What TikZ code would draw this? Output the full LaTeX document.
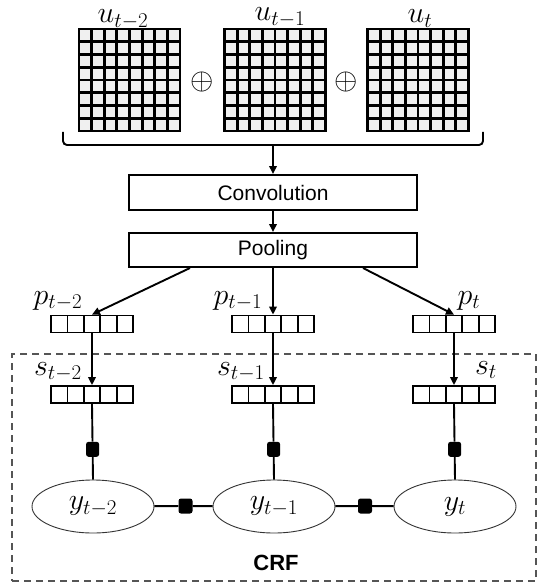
\RequirePackage{fix-cm}
\documentclass[tikz,border=0pt]{standalone}
\usepackage{fontspec}
\setsansfont{Liberation Sans}
\usetikzlibrary{arrows.meta,calc,shapes.geometric}
\definecolor{cellgray}{HTML}{F0F0F0}
\definecolor{framegray}{HTML}{555555}

\tikzset{
  gridbox/.style={draw, fill=cellgray, line width=2.8pt, minimum width=101pt, minimum height=102pt, inner sep=0pt,
    path picture={
      \foreach \i in {1,...,7}{% cell lines
        \draw[line width=2.8pt] ($(path picture bounding box.south west)!\i/8!(path picture bounding box.south east)$) -- ($(path picture bounding box.north west)!\i/8!(path picture bounding box.north east)$);
        \draw[line width=2.8pt] ($(path picture bounding box.south west)!\i/8!(path picture bounding box.north west)$) -- ($(path picture bounding box.south east)!\i/8!(path picture bounding box.north east)$);
      }}},
  vecbox/.style={draw, fill=white, line width=1.8pt, minimum width=82pt, minimum height=17pt, inner sep=0pt,
    path picture={
      \foreach \i in {1,...,4}{% cells
        \draw[line width=1.8pt] ($(path picture bounding box.south west)!\i/5!(path picture bounding box.south east)$) -- ($(path picture bounding box.north west)!\i/5!(path picture bounding box.north east)$);
      }}},
  opbox/.style={draw, line width=2pt, minimum width=288pt, minimum height=34pt, inner sep=0pt, font=\sffamily\fontsize{21}{25}\selectfont},
  varnode/.style={draw=black!80, ellipse, line width=0.9pt, minimum width=122pt, minimum height=53pt, inner sep=0pt, font=\fontsize{30}{34}\selectfont},
  factor/.style={fill=black, rounded corners=2.5pt, minimum width=13pt, minimum height=15pt, inner sep=0pt},
  mathlbl/.style={inner sep=0pt, font=\fontsize{30}{34}\selectfont},
  flow/.style={line width=1.9pt, -{Triangle[length=8pt,width=7.5pt]}},
  link/.style={line width=1.9pt},
}

\begin{document}
\begin{tikzpicture}[x=1pt,y=-1pt]
  \useasboundingbox (0,0) rectangle (537,588);

  % CRF frame
  \node[draw=framegray, line width=1.8pt, dash pattern=on 7pt off 5pt, minimum width=524pt, minimum height=227pt, inner sep=0pt] (crf) at (274,467.5) {};
  \node[font=\sffamily\bfseries\fontsize{22}{26}\selectfont] (crflabel) at (276,563) {CRF};

  % input frames
  \foreach \cx/\name in {129.5/g1,275/g2,418/g3}{
    \node[gridbox] (\name) at (\cx,80) {};
  }
  \node[mathlbl, anchor=base] (u1) at (123,23) {$u_{t-2}$};
  \node[mathlbl, anchor=base] (u2) at (280,21) {$u_{t-1}$};
  \node[mathlbl, anchor=base] (u3) at (420,23) {$u_t$};
  \node[mathlbl] (plus1) at (202,82) {$\oplus$};
  \node[mathlbl] (plus2) at (346,82) {$\oplus$};

  % brace
  \draw[link, rounded corners=4pt] (63,132) -- (63,145) -- (483,145) -- (483,132);
  \coordinate (bracetip) at (273,145);

  % convolution and pooling
  \node[opbox, minimum height=35pt] (conv) at (273,192.5) {Convolution};
  \node[opbox] (pool) at (273,250) {Pooling};
  \draw[flow] (bracetip) -- (conv.north);
  \draw[flow] (conv.south) -- (pool.north);

  % pooled and state vectors
  \foreach \cx [count=\k] in {92,273,454}{
    \node[vecbox] (p\k) at (\cx,324) {};
    \node[vecbox] (s\k) at (\cx,394.5) {};
    \draw[flow] (p\k.south) -- (s\k.north);
  }
  \draw[flow] ([xshift=-83pt]pool.south) -- (p1.north);
  \draw[flow] (pool.south) -- (p2.north);
  \draw[flow] ([xshift=90pt]pool.south) -- (p3.north);

  \node[mathlbl, anchor=base] (pl1) at (58,304) {$p_{t-2}$};
  \node[mathlbl, anchor=base] (pl2) at (238,304) {$p_{t-1}$};
  \node[mathlbl, anchor=base] (pl3) at (469,304) {$p_t$};
  \node[mathlbl, anchor=base] (sl1) at (58,375) {$s_{t-2}$};
  \node[mathlbl, anchor=base] (sl2) at (241,375) {$s_{t-1}$};
  \node[mathlbl, anchor=base] (sl3) at (486,374) {$s_t$};

  % labels
  \node[varnode] (y1) at (93,506.5) {$y_{t-2}$};
  \node[varnode] (y2) at (274,506.5) {$y_{t-1}$};
  \node[varnode] (y3) at (455,506.5) {$y_t$};

  \foreach \k in {1,2,3}{% unary factors
    \node[factor] (fv\k) at ($(s\k.south)!0.6!(y\k.north)$) {};
    \draw[link] (s\k.south) -- (fv\k) -- (y\k.north);
  }
  \node[factor, minimum width=14pt] (fh1) at (185.5,506) {};
  \node[factor, minimum width=14pt] (fh2) at (365,506) {};
  \draw[link] (y1) -- (fh1) -- (y2);
  \draw[link] (y2) -- (fh2) -- (y3);
\end{tikzpicture}
\end{document}
